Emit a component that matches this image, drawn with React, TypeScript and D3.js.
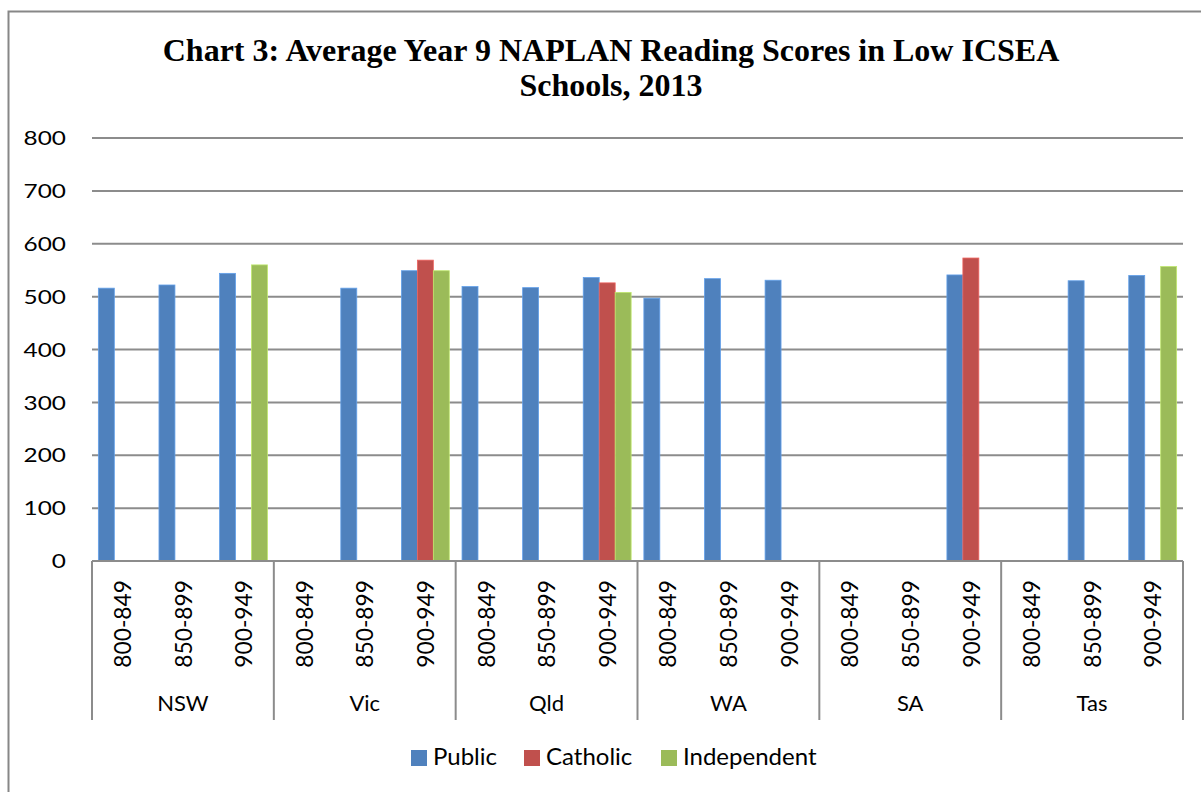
import React from "react";
import * as d3 from "d3";

const states = ["NSW", "Vic", "Qld", "WA", "SA", "Tas"];
const bands = ["800-849", "850-899", "900-949"];
const seriesNames = ["Public", "Catholic", "Independent"];
const seriesColors = ["#4F81BD", "#C0504D", "#9BBB59"];

// values per state × band (null = no data)
const publicScores = [516, 522, 544, null, 516, 549, 519, 517, 536, 497, 534, 531, null, null, 541, null, 530, 540];
const catholicScores = [null, null, null, null, null, 569, null, null, 526, null, null, null, null, null, 573, null, null, null];
const independentScores = [null, null, 560, null, null, 549, null, null, 508, null, null, null, null, null, null, null, null, 557];
const yTicks = [0, 100, 200, 300, 400, 500, 600, 700, 800];
const titleLines = ["Chart 3: Average Year 9 NAPLAN Reading Scores in Low ICSEA", "Schools, 2013"];

const W = 1201;
const H = 792;
const left = 92;
const right = 1183;
const top = 138;
const bottom = 561;
const catFont = "Lato, 'Open Sans', sans-serif";

export default function App() {
  const cats = states.flatMap((s) => bands.map((b) => `${s}|${b}`));
  const x0 = d3.scaleBand<string>().domain(cats).range([left, right]).paddingInner(0.21).paddingOuter(0.105);
  const x1 = d3.scaleBand<string>().domain(seriesNames).range([0, x0.bandwidth()]);
  const y = d3.scaleLinear().domain([0, 800]).range([bottom, top]);
  const groupScale = d3.scaleBand<string>().domain(states).range([left, right]);
  const allSeries = [publicScores, catholicScores, independentScores];

  return (
    <svg width={W} height={H} style={{ position: "absolute", left: 0, top: 0, background: "#fff" }}>
      <rect x={8.5} y={11.5} width={W + 10} height={H + 10} fill="#fff" stroke="#878787" strokeWidth={2} />
      {titleLines.map((t, i) => (
        <text key={t} x={611} y={61 + i * 35} textAnchor="middle" fontFamily="'Liberation Serif', 'Times New Roman', serif" fontWeight="bold" fontSize={32} fill="#000">
          {t}
        </text>
      ))}
      {yTicks.map((t) => (
        <g key={t}>
          {t > 0 && <line x1={left} x2={right} y1={y(t)} y2={y(t)} stroke="#8c8c8c" strokeWidth={2} />}
          <text transform={`translate(66,${y(t)}) scale(1.22,1)`} dy="0.36em" textAnchor="end" fontFamily={catFont} fontSize={20} fill="#000">
            {t}
          </text>
        </g>
      ))}
      {allSeries.map((vals, si) =>
        vals.map((v, ci) =>
          v == null ? null : (
            <rect
              key={`${si}-${ci}`}
              x={(x0(cats[ci]) as number) + (x1(seriesNames[si]) as number)}
              y={y(v)}
              width={x1.bandwidth()}
              height={y(0) - y(v)}
              fill={seriesColors[si]}
              stroke={d3.color(seriesColors[si])!.brighter(0.6).toString()}
              strokeWidth={0.8}
            />
          )
        )
      )}
      <line x1={left} x2={right} y1={bottom} y2={bottom} stroke="#8c8c8c" strokeWidth={2} />
      {states.map((s) => (
        <line key={s} x1={groupScale(s)} x2={groupScale(s)} y1={bottom} y2={720} stroke="#8c8c8c" strokeWidth={2} />
      ))}
      <line x1={right} x2={right} y1={bottom} y2={720} stroke="#8c8c8c" strokeWidth={2} />
      {cats.map((c) => {
        const cx = (x0(c) as number) + x0.bandwidth() / 2;
        return (
          <text key={c} transform={`translate(${cx},580) rotate(-90) scale(0.95,1)`} dy="0.36em" textAnchor="end" fontFamily={catFont} fontSize={24} fill="#000">
            {c.split("|")[1]}
          </text>
        );
      })}
      {states.map((s) => (
        <text key={s} x={(groupScale(s) as number) + groupScale.bandwidth() / 2} y={711} textAnchor="middle" fontFamily={catFont} fontSize={22} fill="#000">
          {s}
        </text>
      ))}
      {seriesNames.map((n, i) => {
        const lx = [411, 524, 661][i];
        return (
          <g key={n}>
            <rect x={lx} y={750} width={16} height={16} fill={seriesColors[i]} />
            <text x={lx + 22} y={765} fontFamily={catFont} fontSize={24} fill="#000">
              {n}
            </text>
          </g>
        );
      })}
    </svg>
  );
}
